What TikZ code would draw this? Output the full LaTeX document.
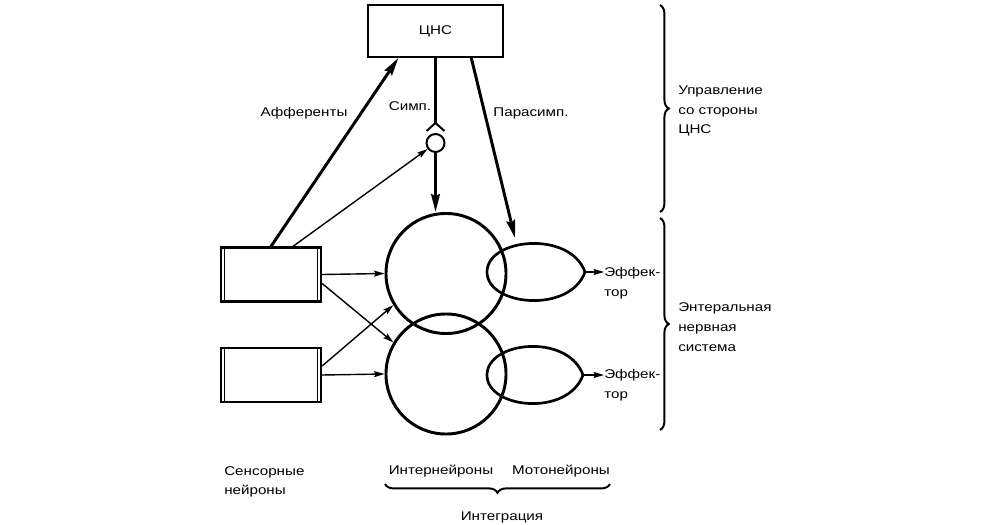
\documentclass[tikz,border=0pt]{standalone}
\usepackage{fontspec}
\setmainfont[FakeStretch=1.2]{Liberation Sans}
\usetikzlibrary{arrows.meta,decorations.pathreplacing,calc}

\tikzset{
  lbl/.style={font=\fontsize{9}{14}\selectfont, inner sep=0pt},
  bigarr/.style={line width=2.1pt, -{Stealth[length=0.45cm,width=0.22cm,inset=0.06cm]}},
  smallarr/.style={line width=1pt, -{Stealth[length=0.26cm,width=0.15cm,inset=0.04cm]}},
  ganglion/.style={circle, draw, line width=1.4pt, minimum size=0.45cm, inner sep=0pt},
  neuron/.style={circle, draw, line width=2.1pt, minimum size=3.0cm, inner sep=0pt},
  sensbox/.style={draw, line width=1.6pt, minimum width=2.5cm, minimum height=1.35cm, inner sep=0pt},
  loopline/.style={line width=1.9pt},
  brc/.style={decorate, decoration={brace, amplitude=0.22cm}, line width=1.4pt},
}

\begin{document}
\begin{tikzpicture}[x=0.025cm, y=-0.025cm]
	\useasboundingbox (0,0) rectangle (999,525);

	% CNS and sensory neurons
	\node[draw, line width=1.4pt, minimum width=3.375cm, minimum height=1.3cm, lbl] (cns) at (435.5,31) {ЦНС};
	\node[sensbox] (sens1) at (271,274.5) {};
	\node[sensbox] (sens2) at (271,375) {};
	\foreach \s in {sens1,sens2} {
		\draw[line width=0.9pt] ([xshift=0.11cm]\s.north west) -- ([xshift=0.11cm]\s.south west);
		\draw[line width=0.9pt] ([xshift=-0.11cm]\s.north east) -- ([xshift=-0.11cm]\s.south east);
	}

	% interneurons
	\node[neuron] (int1) at (446,273.5) {};
	\node[neuron] (int2) at (446,374) {};

	% motoneurons
	\draw[loopline] (487,272) .. controls (487,238) and (570,230) .. (585,272) .. controls (570,314) and (487,306) .. (487,272);
	\draw[loopline] (487,375) .. controls (487,341) and (568,333) .. (583,375) .. controls (568,417) and (487,409) .. (487,375);
	\coordinate (eff1) at (585,272);
	\coordinate (eff2) at (583,375);
	\coordinate (para) at (515,238);

	% sympathetic ganglion
	\node[ganglion] (gang) at (435.5,143) {};
	\coordinate (syn) at (435.5,123);
	\draw[line width=2.1pt] (cns.south) -- (syn);
	\draw[line width=1.4pt] ($(syn)+(-9,8)$) -- (syn) -- ++(9,8);
	\draw[bigarr] (gang.south) -- (gang.south |- int1.north);

	% connections
	\draw[bigarr] (sens1.north) -- (cns.216);
	\draw[smallarr] (sens1.52) -- (gang.217);
	\draw[bigarr] (cns.323) -- (para);
	\draw[smallarr] (sens1.east) -- (int1.west);
	\draw[smallarr] (sens1.-10) -- (int2.149);
	\draw[smallarr] (sens2.10) -- (int1.211);
	\draw[smallarr] (sens2.east) -- (int2.west);

	% effectors
	\node[lbl, anchor=west, align=left] (eflab1) at (604,283) {Эффек-\\тор};
	\node[lbl, anchor=west, align=left] (eflab2) at (604,385) {Эффек-\\тор};
	\draw[smallarr] (eff1) -- (eff1 -| eflab1.west);
	\draw[smallarr] (eff2) -- (eff2 -| eflab2.west);

	% labels
	\node[lbl] (aff) at (304,113) {Афференты};
	\node[lbl] (symp) at (410,106) {Симп.};
	\node[lbl] (psymp) at (531,113) {Парасимп.};
	\node[lbl] (sensl) at (224,482) [anchor=west, align=left] {Сенсорные\\нейроны};
	\node[lbl] (intl) at (441,471) {Интернейроны};
	\node[lbl] (motl) at (561,471) {Мотонейроны};
	\node[lbl] (integ) at (502,517) {Интеграция};

	% braces
	\draw[brc] (660,5) -- (660,212);
	\draw[brc] (660,218) -- (660,430);
	\draw[brc] (610,484) -- (385,484);
	\node[lbl, anchor=west, align=left] (cnsl) at (678,111) {Управление\\со стороны\\ЦНС};
	\node[lbl, anchor=west, align=left] (ensl) at (678,327) {Энтеральная\\нервная\\система};
\end{tikzpicture}
\end{document}
